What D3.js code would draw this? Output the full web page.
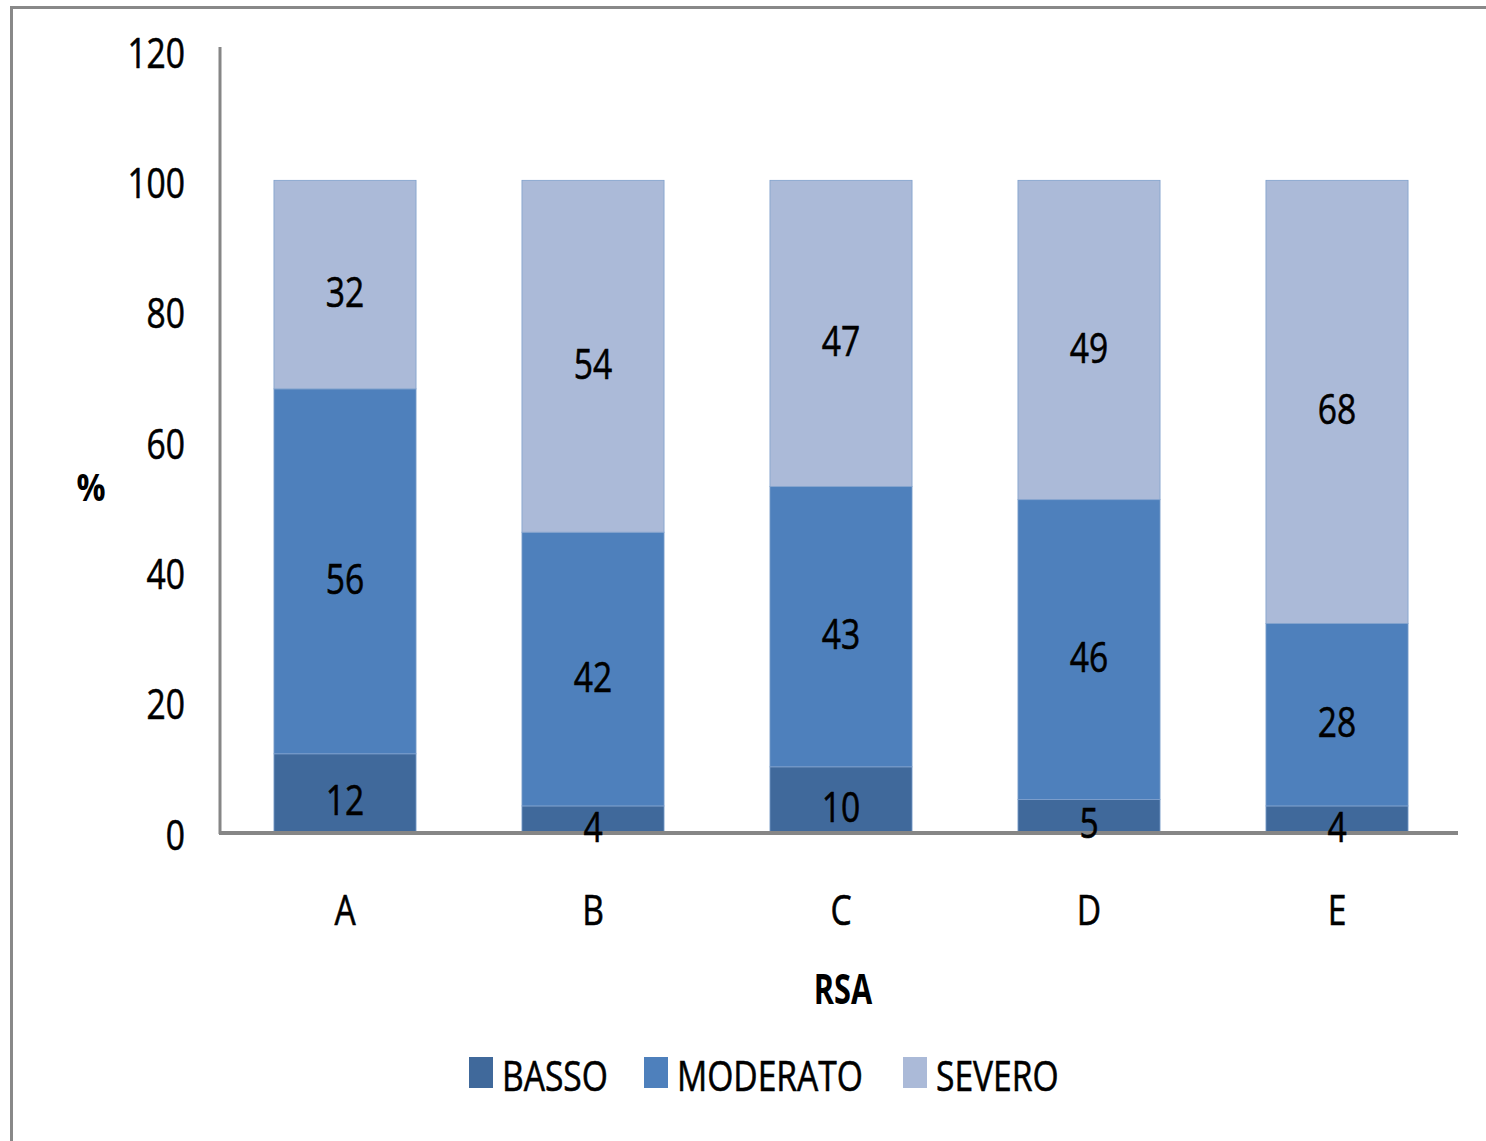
<!DOCTYPE html>
<html>
<head>
<meta charset="utf-8">
<script src="https://cdn.jsdelivr.net/npm/d3@7"></script>
<style>
  html, body { margin: 0; padding: 0; background: #fff; }
  svg { display: block; }
</style>
</head>
<body>
<svg id="chart" width="1486" height="1141"></svg>
<script>
// Categories (RSA) and stacked series values (%)
const categories = ["A", "B", "C", "D", "E"];
const basso    = [12, 4, 10, 5, 4];
const moderato = [56, 42, 43, 46, 28];
const severo   = [32, 54, 47, 49, 68];
const seriesNames = ["BASSO", "MODERATO", "SEVERO"];
const yTicks = [0, 20, 40, 60, 80, 100, 120];

const colors = { BASSO: "#40699b", MODERATO: "#4e80bc", SEVERO: "#abbad8" };
const FONT = "'Open Sans', 'Noto Sans', sans-serif";
const SX = 0.8; // horizontal squeeze of the narrow chart lettering

const svg = d3.select("#chart");

// outer chart frame
svg.append("rect")
  .attr("x", 11.5).attr("y", 7.5)
  .attr("width", 1600).attr("height", 1300)
  .attr("fill", "#fff").attr("stroke", "#898989").attr("stroke-width", 3);

const x = d3.scaleBand().domain(categories).range([221, 1461])
  .paddingInner(0.427).paddingOuter(0.2135);
const y = d3.scaleLinear().domain([0, 120]).range([832, 50]);

// condensed text helper
function label(parent, tx, ty, str, opts = {}) {
  const g = parent.append("g")
    .attr("transform", `translate(${tx},${ty}) scale(${opts.sx || SX},1)`);
  g.append("text")
    .attr("x", 0).attr("y", 0)
    .attr("text-anchor", opts.anchor || "middle")
    .attr("dominant-baseline", "central")
    .attr("font-family", FONT)
    .attr("font-size", opts.size || 42)
    .attr("font-weight", opts.weight || "normal")
    .attr("fill", "#000")
    .attr("stroke", "#000")
    .attr("stroke-width", opts.weight ? 0 : 0.6)
    .text(str);
  return g;
}

// stacked data
const rows = categories.map((c, i) => ({ cat: c, BASSO: basso[i], MODERATO: moderato[i], SEVERO: severo[i] }));
const stack = d3.stack().keys(seriesNames)(rows);

const bars = svg.append("g");
stack.forEach(layer => {
  bars.selectAll(null).data(layer).join("rect")
    .attr("x", d => x(d.data.cat))
    .attr("y", d => y(d[1]))
    .attr("width", x.bandwidth())
    .attr("height", d => y(d[0]) - y(d[1]))
    .attr("fill", colors[layer.key])
    .attr("stroke", "#7fa0cc").attr("stroke-width", 0.8);
});

// y axis (line + labels)
svg.append("line")
  .attr("x1", 220).attr("x2", 220).attr("y1", 47).attr("y2", 834)
  .attr("stroke", "#868686").attr("stroke-width", 3);
yTicks.forEach(t => label(svg, 185, y(t) + 1, String(t), { anchor: "end" }));

// x axis
svg.append("line")
  .attr("x1", 219).attr("x2", 1458).attr("y1", 833).attr("y2", 833)
  .attr("stroke", "#868686").attr("stroke-width", 4);
categories.forEach(c => label(svg, x(c) + x.bandwidth() / 2, 908, c));

// segment value labels
stack.forEach(layer => {
  layer.forEach(d => {
    const cy = (y(d[0]) + y(d[1])) / 2 + 6;
    label(svg, x(d.data.cat) + x.bandwidth() / 2, cy, String(d[1] - d[0]));
  });
});

// axis titles
label(svg, 91, 486, "%", { weight: "bold", size: 38, sx: 0.85 });
label(svg, 843, 988, "RSA", { weight: "bold", size: 41, sx: 0.75 });

// legend
const legendItems = [
  { name: "BASSO", sq: 469, tx: 502 },
  { name: "MODERATO", sq: 644, tx: 677 },
  { name: "SEVERO", sq: 903, tx: 936 }
];
legendItems.forEach(it => {
  svg.append("rect")
    .attr("x", it.sq).attr("y", 1057).attr("width", 24).attr("height", 31)
    .attr("fill", colors[it.name]);
  label(svg, it.tx, 1074, it.name, { anchor: "start" });
});
</script>
</body>
</html>
